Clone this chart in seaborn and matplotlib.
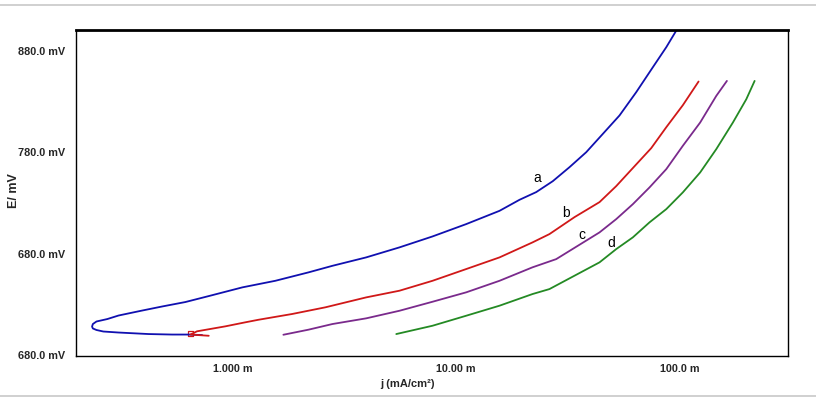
import warnings
warnings.simplefilter(action='ignore', category=FutureWarning)

import numpy as np
import pandas as pd
import seaborn as sns
import matplotlib
matplotlib.use('Agg')
import matplotlib.pyplot as plt
from matplotlib.ticker import FixedLocator, MultipleLocator, LogLocator, NullFormatter
from matplotlib.lines import Line2D

# curve a (blue) - loops back at low current
a_j = [0.732, 0.638, 0.538, 0.422, 0.310, 0.265, 0.247, 0.238, 0.236, 0.238, 0.247,
       0.276, 0.310, 0.395, 0.485, 0.616, 0.784, 1.108, 1.556, 2.187, 2.80, 3.96,
       5.58, 7.84, 11.09, 15.62, 19.19, 22.79, 27.03, 32.09, 38.12, 45.23, 53.70,
       63.77, 75.65, 86.87, 96.27]
a_E = [598.7, 599.2, 599.2, 599.7, 601.2, 602.2, 603.7, 605.2, 607.1, 609.6, 612.1,
       614.5, 618.0, 622.9, 626.9, 631.3, 637.2, 645.8, 652.3, 660.6, 667.1, 675.4,
       685.3, 696.1, 708.3, 721.4, 732.3, 739.9, 750.7, 764.5, 779.3, 797.4, 815.6,
       838.6, 863.2, 883.0, 899.4]

# curve b (red)
b_j = [0.784, 0.649, 0.695, 0.930, 1.143, 1.307, 1.849, 2.604, 3.96, 5.58, 7.84,
       11.09, 15.62, 21.93, 26.1, 33.81, 43.71, 51.9, 62.7, 74.4, 86.9, 103.0, 121.1]
b_E = [598.0, 599.2, 602.4, 607.3, 611.3, 613.8, 619.5, 626.1, 635.9, 642.5, 652.3,
       663.9, 675.4, 690.2, 698.4, 715.2, 730.0, 745.8, 765.5, 783.3, 804.0, 825.7, 849.1]

# curve c (purple)
c_j = [1.690, 2.187, 2.80, 3.96, 5.58, 7.84, 11.09, 15.62, 21.93, 27.99, 43.71,
       51.9, 61.6, 73.1, 86.9, 103.0, 123.1, 145.3, 162.1]
c_E = [599.0, 604.0, 609.6, 615.2, 622.7, 631.6, 640.9, 652.3, 665.6, 673.7, 700.1,
       713.2, 728.0, 744.5, 762.6, 785.6, 808.6, 834.9, 849.7]

# curve d (green)
d_j = [5.40, 7.84, 11.09, 15.62, 21.93, 26.1, 43.71, 51.9, 61.6, 73.1, 86.9, 103.0,
       123.1, 145.3, 172.4, 197.9, 215.6]
d_E = [599.7, 607.9, 617.8, 627.7, 639.2, 644.1, 670.5, 683.6, 695.2, 710.0, 723.1,
       739.6, 759.3, 782.3, 808.6, 831.6, 849.7]

curve_names = ['a', 'b', 'c', 'd']
label_j = [23.1, 31.1, 36.3, 49.5]
label_E = [754.7, 720.1, 698.4, 690.5]

# small open square at the start of curve b
start_j = [0.649]
start_E = [600.3]

x_ticks = [1, 10, 100]
x_ticklabels = ['1.000 m', '10.00 m', '100.0 m']
y_ticks = [580, 680, 780, 880]
y_ticklabels = ['680.0 mV', '680.0 mV', '780.0 mV', '880.0 mV']

frames = []
for name, js, es in zip(curve_names, [a_j, b_j, c_j, d_j], [a_E, b_E, c_E, d_E]):
    frames.append(pd.DataFrame({'j': js, 'E': es, 'curve': name}))
df = pd.concat(frames, ignore_index=True)

sns.set_style('white')
plt.rcParams['font.family'] = ['Liberation Sans', 'DejaVu Sans']

fig = plt.figure(figsize=(8.16, 4.02), dpi=100)
ax = fig.add_axes([0.0931, 0.1119, 0.8726, 0.811])

palette = {'a': '#1010b0', 'b': '#d01818', 'c': '#7a2a8c', 'd': '#248a24'}
sns.lineplot(data=df, x='j', y='E', hue='curve', units='curve', sort=False,
             estimator=None, palette=palette, linewidth=1.3, legend=False, ax=ax)
sns.scatterplot(x=start_j, y=start_E, marker='s', s=14, facecolor='none',
                edgecolor=palette['b'], linewidth=0.9, ax=ax)

ax.set_xscale('log')
ax.set_xlim(0.2, 304)
ax.set_ylim(578, 900)

ax.xaxis.set_major_locator(FixedLocator(x_ticks))
ax.set_xticklabels(x_ticklabels)
ax.xaxis.set_minor_locator(LogLocator(base=10, subs=np.arange(2, 10)))
ax.xaxis.set_minor_formatter(NullFormatter())

ax.yaxis.set_major_locator(FixedLocator(y_ticks))
ax.set_yticklabels(y_ticklabels)
ax.yaxis.set_minor_locator(MultipleLocator(20))

ax.tick_params(axis='both', which='both', direction='in', color='black')
ax.tick_params(axis='both', which='major', length=3.5, width=1)
ax.tick_params(axis='both', which='minor', length=2.5, width=1)
ax.tick_params(axis='x', which='major', pad=5, labelsize=7.8)
ax.tick_params(axis='y', which='major', pad=8, labelsize=7.8)
for lab in ax.get_xticklabels() + ax.get_yticklabels():
    lab.set_fontweight('bold')

for side in ['left', 'bottom', 'right']:
    ax.spines[side].set_color('black')
    ax.spines[side].set_linewidth(1)
ax.spines['top'].set_color('black')
ax.spines['top'].set_linewidth(2)

ax.set_xlabel('j (mA/cm²)', fontsize=8, fontweight='bold')
ax.xaxis.set_label_coords(0.466, -0.066)
ax.set_ylabel('E/ mV', fontsize=9, fontweight='bold')
ax.yaxis.set_label_coords(-0.078, 0.51)

for name, xj, ye in zip(curve_names, label_j, label_E):
    ax.text(xj, ye, name, fontsize=10, ha='center', va='center', color='black')

# grey separator lines of the original screenshot
fig.add_artist(Line2D([0, 1], [1 - 6 / 402, 1 - 6 / 402], color='#c8c8c8', lw=1.2))
fig.add_artist(Line2D([0, 1], [1 - 397 / 402, 1 - 397 / 402], color='#c8c8c8', lw=1.2))

fig.savefig('out.png', dpi=100)
